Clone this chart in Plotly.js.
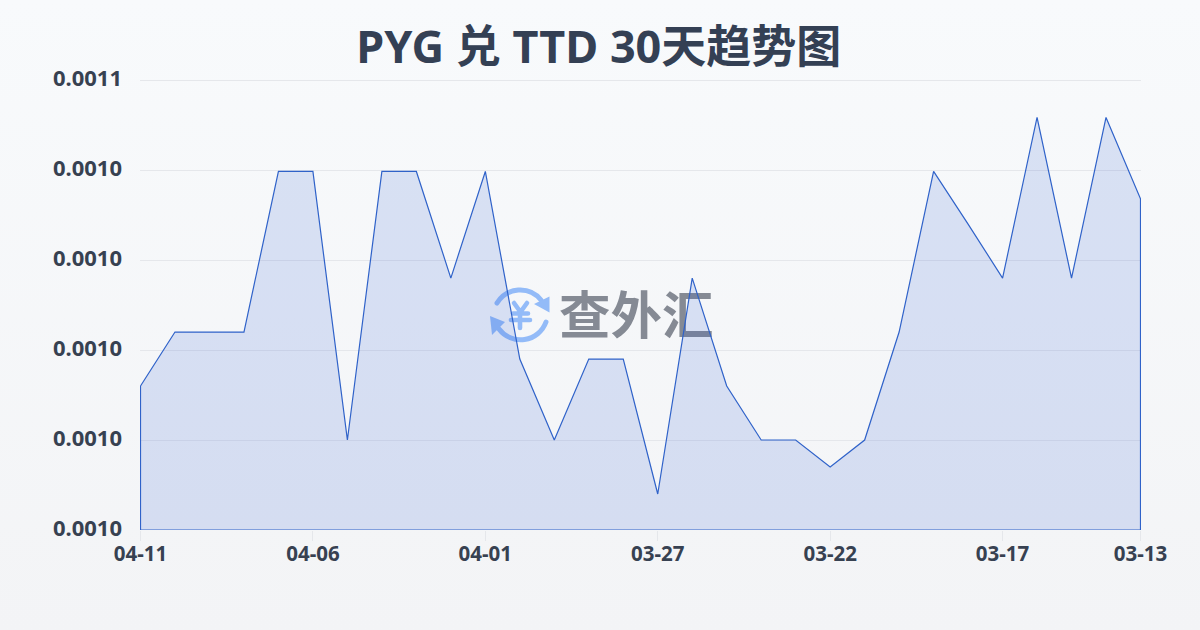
<!DOCTYPE html>
<html><head><meta charset="utf-8">
<script src="https://cdn.plot.ly/plotly-3.0.1.min.js"></script>
<style>
html,body{margin:0;padding:0;width:1200px;height:630px;overflow:hidden;background:linear-gradient(180deg,#f8fafc 0%,#f3f4f6 100%);}
#chart{position:absolute;left:0;top:0;width:1200px;height:630px;}
</style></head><body><div id="chart"></div>
<script>
const dates = ['04-11','04-10','04-09','04-08','04-07','04-06','04-05','04-04','04-03','04-02','04-01','03-31','03-30','03-29','03-28','03-27','03-26','03-25','03-24','03-23','03-22','03-21','03-20','03-19','03-18','03-17','03-16','03-15','03-14','03-13'];
const rates = [0.000992,0.001004,0.001004,0.001004,0.0010397,0.0010397,0.00098,0.0010397,0.0010397,0.001016,0.0010397,0.000998,0.00098,0.000998,0.000998,0.000968,0.001016,0.000992,0.00098,0.00098,0.000974,0.00098,0.001004,0.0010397,0.001028,0.001016,0.0010517,0.001016,0.0010517,0.0010336];
const yTicks = [0.00096,0.00098,0.00100,0.00102,0.00104,0.00106];
const yLabels = ['0.0010','0.0010','0.0010','0.0010','0.0010','0.0011'];
const xTicks = ['04-11','04-06','04-01','03-27','03-22','03-17','03-13'];
const yMin = 0.00096, yMax = 0.00106;
const FONT = '"Noto Sans","Noto Sans CJK SC",sans-serif';
const CJK = '"Noto Sans CJK SC",sans-serif';

const logo = 'data:image/svg+xml;utf8,' + encodeURIComponent(
 '<svg xmlns="http://www.w3.org/2000/svg" viewBox="0 0 70 70"><g fill="none" stroke="#93bbf8" stroke-linecap="round" stroke-linejoin="round">' +
 '<path stroke-width="5" d="M12 23 A27 27 0 0 1 56 20"/><path stroke-width="5" d="M61 42 A27 27 0 0 1 14 49"/>' +
 '<path stroke-width="4.6" d="M29 23 L35.5 32 L42 23 M35 32 L35 48 M28 33.5 L43 33.5 M26 40 L45 40"/></g>' +
 '<path d="M49 24 L64.5 16.5 L64.5 32.5 Z" fill="#93bbf8"/><path d="M5 36 L20 42 L7 55 Z" fill="#93bbf8"/></svg>');

Plotly.newPlot('chart', [{
  type: 'scatter', mode: 'markers+text', x: ['03-30'], y: [0.0010064], text: ['查外汇'], textposition: 'middle right',
  marker: {size: 6, opacity: 0},
  textfont: {family: CJK, size: 51.5, weight: 700, color: '#858a94'},
  cliponaxis: false, hoverinfo: 'skip', showlegend: false
},{
  type: 'scatter', mode: 'lines',
  x: dates.concat([dates[dates.length-1], dates[0], dates[0]]),
  y: rates.concat([yMin, yMin, rates[0]]),
  fill: 'toself', fillcolor: 'rgba(40,90,210,0.15)',
  line: {color: '#2f62c9', width: 1.2, shape: 'linear'},
  cliponaxis: false, hoverinfo: 'skip', showlegend: false
}], {
  width: 1200, height: 630,
  paper_bgcolor: 'rgba(0,0,0,0)', plot_bgcolor: 'rgba(0,0,0,0)',
  margin: {l: 140, r: 59, t: 79, b: 100},
  title: {text: 'PYG 兑 TTD 30天趋势图', x: 0.499, xanchor: 'center', y: 0.925, yanchor: 'middle',
    font: {family: FONT, size: 45, weight: 700, color: '#344054'}},
  xaxis: {type: 'category', categoryorder: 'array', categoryarray: dates, range: [-0.0145, 29.0145],
    tickmode: 'array', tickvals: xTicks, ticktext: xTicks, showgrid: false, zeroline: false, showline: false,
    ticks: 'outside', ticklen: 10, tickwidth: 1, tickcolor: '#e5e7eb', ticklabelstandoff: -5,
    tickfont: {family: FONT, size: 20.5, weight: 700, color: '#374151'}},
  yaxis: {range: [yMin, yMax + 2.5e-7], tickmode: 'array', tickvals: yTicks, ticktext: yLabels,
    showgrid: true, gridcolor: '#e5e7eb', gridwidth: 1, zeroline: false, showline: false,
    ticks: '', ticklabelstandoff: 17, ticklabelshift: -2,
    tickfont: {family: FONT, size: 22, weight: 700, color: '#374151'}},
  images: [{source: logo, xref: 'paper', yref: 'paper', x: (485-140)/1001, y: (530-280)/451, sizex: 70/1001, sizey: 70/451, xanchor: 'left', yanchor: 'top', layer: 'below', opacity: 1}]
}, {displayModeBar: false, staticPlot: true});
</script></body></html>
